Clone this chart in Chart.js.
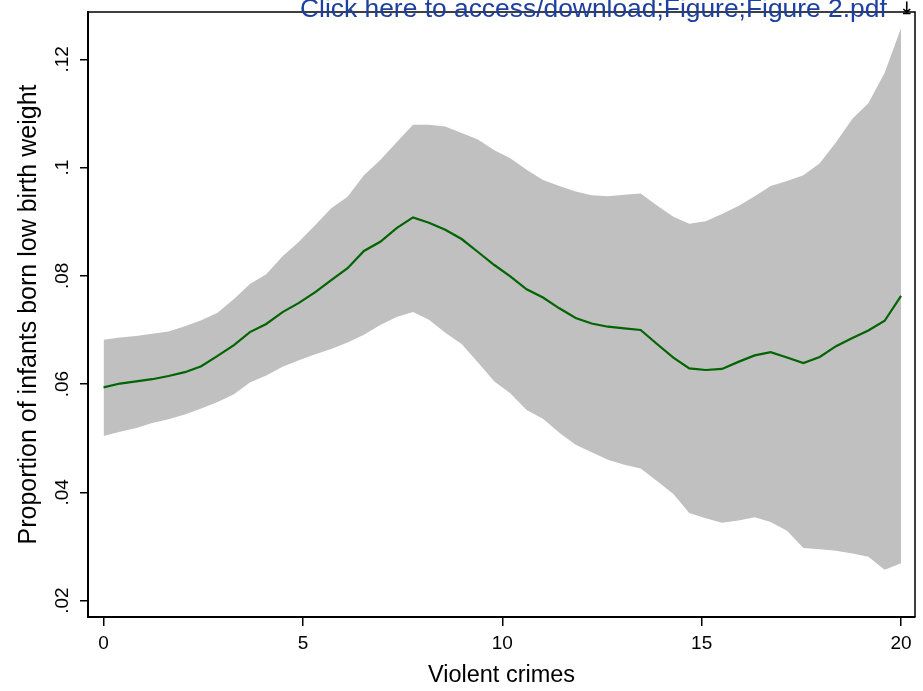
<!DOCTYPE html>
<html>
<head>
<meta charset="utf-8">
<script src="https://cdn.jsdelivr.net/npm/chart.js@4"></script>
<style>
  body { margin: 0; background: #fff; }
  #wrap { position: relative; width: 923px; height: 691px; overflow: hidden; }
  #link { position: absolute; left: 300px; top: -5px; font: 26.4px "Liberation Sans", Arial, sans-serif; line-height: 26px; color: #1d3f9e; white-space: nowrap; }
  #dl { position: absolute; left: 903px; top: -1px; font: bold 17px "DejaVu Sans", sans-serif; line-height: 17px; color: #000; }
</style>
</head>
<body>
<div id="wrap">
  <canvas id="grafico" width="923" height="691"></canvas>
  <div id="link">Click here to access/download;Figure;Figure 2.pdf</div>
  <div id="dl">⤓</div>
</div>
<script>
// data (local polynomial fit + 95% CI)
const xGrid = [0, 0.41, 0.82, 1.22, 1.63, 2.04, 2.45, 2.86, 3.27, 3.67, 4.08, 4.49, 4.9, 5.31, 5.71, 6.12, 6.53, 6.94, 7.35, 7.76,
  8.16, 8.57, 8.98, 9.39, 9.8, 10.2, 10.61, 11.02, 11.43, 11.84, 12.24, 12.65, 13.06, 13.47, 13.88, 14.29, 14.69, 15.1, 15.51, 15.92,
  16.33, 16.73, 17.14, 17.55, 17.96, 18.37, 18.78, 19.18, 19.59, 20];
const fitted = [0.0594, 0.0601, 0.0605, 0.0609, 0.0615, 0.0622, 0.0633, 0.0652, 0.0672, 0.0696, 0.0711, 0.0733, 0.0750, 0.0770, 0.0792, 0.0814, 0.0846, 0.0863, 0.0888, 0.0908,
  0.0898, 0.0885, 0.0868, 0.0844, 0.0820, 0.0799, 0.0775, 0.0760, 0.0740, 0.0722, 0.0712, 0.0706, 0.0703, 0.0700, 0.0674, 0.0649, 0.0629, 0.0626, 0.0628, 0.0641,
  0.0653, 0.0659, 0.0649, 0.0639, 0.0650, 0.0670, 0.0685, 0.0699, 0.0717, 0.0763];
const ciUpper = [0.0682, 0.0686, 0.0689, 0.0693, 0.0697, 0.0707, 0.0718, 0.0732, 0.0757, 0.0785, 0.0803, 0.0836, 0.0863, 0.0894, 0.0925, 0.0946, 0.0986, 0.1014, 0.1047, 0.1079,
  0.1079, 0.1076, 0.1064, 0.1052, 0.1032, 0.1017, 0.0996, 0.0977, 0.0966, 0.0956, 0.0949, 0.0947, 0.0950, 0.0952, 0.0930, 0.0909, 0.0896, 0.0901, 0.0914, 0.0929,
  0.0947, 0.0966, 0.0975, 0.0986, 0.1008, 0.1047, 0.1090, 0.1119, 0.1175, 0.1258];
const ciLower = [0.0504, 0.0512, 0.0519, 0.0528, 0.0535, 0.0544, 0.0555, 0.0567, 0.0581, 0.0603, 0.0616, 0.0632, 0.0644, 0.0655, 0.0665, 0.0677, 0.0691, 0.0709, 0.0724, 0.0733,
  0.0719, 0.0695, 0.0674, 0.0640, 0.0605, 0.0583, 0.0552, 0.0536, 0.0510, 0.0488, 0.0474, 0.0460, 0.0451, 0.0444, 0.0421, 0.0397, 0.0362, 0.0352, 0.0344, 0.0348,
  0.0354, 0.0345, 0.0329, 0.0297, 0.0295, 0.0292, 0.0287, 0.0281, 0.0257, 0.0269];

const xTicks = [0, 5, 10, 15, 20];
const yTicks = [0.02, 0.04, 0.06, 0.08, 0.1, 0.12];
const yTickLabels = ['.02', '.04', '.06', '.08', '.1', '.12'];

const FONT = '"Liberation Sans", Arial, sans-serif';

function pts(ys) {
  return xGrid.map((x, i) => ({x: x, y: ys[i]}));
}

// top + right edges of the plot region
const frame = {
  id: 'frame',
  afterDraw(chart) {
    const a = chart.chartArea, ctx = chart.ctx;
    ctx.save();
    ctx.strokeStyle = '#000';
    ctx.lineWidth = 1.5;
    ctx.beginPath();
    ctx.moveTo(a.left, a.top);
    ctx.lineTo(a.right, a.top);
    ctx.lineTo(a.right, a.bottom);
    ctx.stroke();
    ctx.restore();
  }
};

const config = {
  type: 'line',
  data: {
    datasets: [
      {
        label: 'fit',
        data: pts(fitted),
        borderColor: '#006400',
        borderWidth: 2.2,
        pointRadius: 0,
        fill: false,
        tension: 0
      },
      {
        label: 'lower',
        data: pts(ciLower),
        borderWidth: 0,
        borderColor: 'rgba(0,0,0,0)',
        pointRadius: 0,
        fill: false,
        tension: 0
      },
      {
        label: 'upper',
        data: pts(ciUpper),
        borderWidth: 0,
        borderColor: 'rgba(0,0,0,0)',
        backgroundColor: '#c0c0c0',
        pointRadius: 0,
        fill: 1,
        tension: 0
      }
    ]
  },
  options: {
    responsive: false,
    animation: false,
    devicePixelRatio: 1,
    layout: { padding: { left: 0, top: 12, right: 8, bottom: 0 } },
    plugins: {
      legend: { display: false },
      tooltip: { enabled: false }
    },
    scales: {
      x: {
        type: 'linear',
        min: -0.39,
        max: 20.35,
        afterBuildTicks: s => { s.ticks = xTicks.map(v => ({value: v})); },
        afterFit: s => { s.height = 74; s.paddingLeft = 0; s.paddingRight = 0; },
        grid: { drawOnChartArea: false, drawTicks: true, tickLength: 9, color: '#000', lineWidth: 1.5 },
        border: { display: true, color: '#000', width: 2 },
        ticks: { color: '#000', font: { family: FONT, size: 19 }, padding: 6, maxRotation: 0 },
        title: { display: true, text: 'Violent crimes', color: '#000', font: { family: FONT, size: 23.5 }, padding: { top: 0, bottom: 1 } }
      },
      y: {
        min: 0.01697,
        max: 0.12874,
        afterBuildTicks: s => { s.ticks = yTicks.map(v => ({value: v})); },
        afterFit: s => { s.width = 88; s.paddingTop = 0; s.paddingBottom = 0; },
        grid: { drawOnChartArea: false, drawTicks: true, tickLength: 8, color: '#000', lineWidth: 1.5 },
        border: { display: true, color: '#000', width: 2 },
        ticks: {
          color: '#000',
          font: { family: FONT, size: 19 },
          padding: 4,
          minRotation: 90,
          maxRotation: 90,
          crossAlign: 'center',
          callback: v => yTickLabels[yTicks.indexOf(v)]
        },
        title: { display: true, text: 'Proportion of infants born low birth weight', color: '#000', font: { family: FONT, size: 25 }, padding: { top: 14, bottom: 0 } }
      }
    }
  },
  plugins: [frame]
};

var grafico = new Chart(document.getElementById('grafico'), config);
</script>
</body>
</html>
